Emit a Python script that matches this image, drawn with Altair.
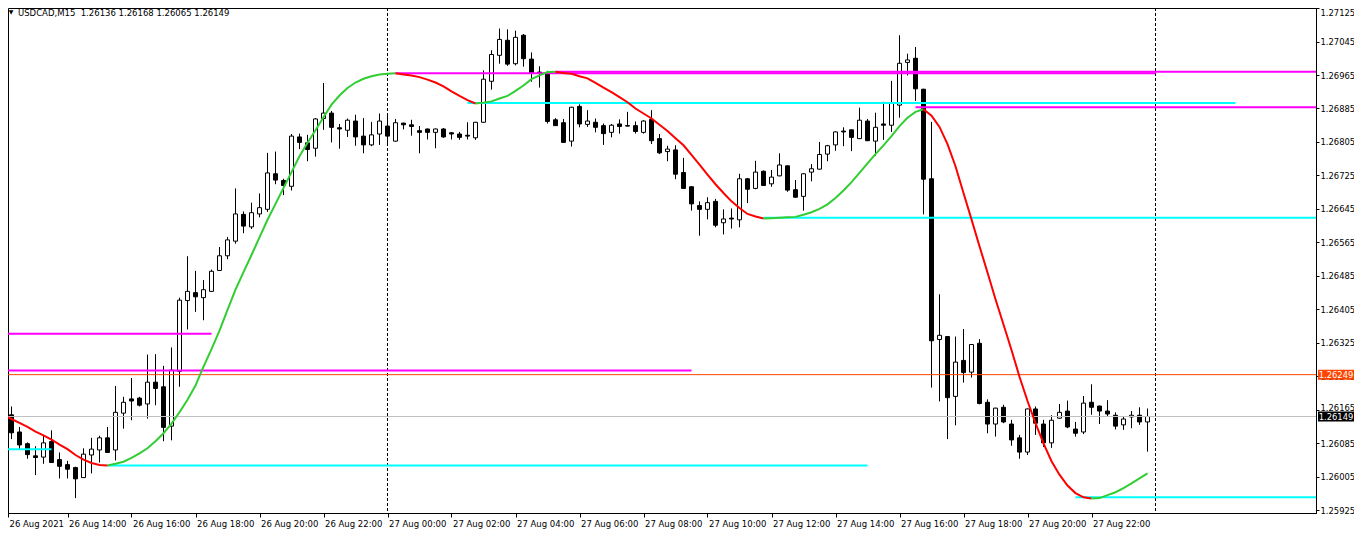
import altair as alt
import pandas as pd

FONT = "DejaVu Sans"
SYMBOL = "USDCAD,M15"

# ---------------- data ----------------
x_labels = ["26 Aug 2021", "26 Aug 14:00", "26 Aug 16:00", "26 Aug 18:00", "26 Aug 20:00",
            "26 Aug 22:00", "27 Aug 00:00", "27 Aug 02:00", "27 Aug 04:00", "27 Aug 06:00",
            "27 Aug 08:00", "27 Aug 10:00", "27 Aug 12:00", "27 Aug 14:00", "27 Aug 16:00",
            "27 Aug 18:00", "27 Aug 20:00", "27 Aug 22:00"]

price_ticks = [1.25925, 1.26005, 1.26085, 1.26165, 1.26245, 1.26325, 1.26405, 1.26485,
               1.26565, 1.26645, 1.26725, 1.26805, 1.26885, 1.26965, 1.27045, 1.27125]

opens = [1.26141, 1.26153, 1.26112, 1.26084, 1.26055, 1.26052, 1.26089, 1.26046,
         1.26034, 1.26027, 1.26003, 1.26057, 1.26069, 1.26098, 1.26069, 1.26157,
         1.26191, 1.26193, 1.26179, 1.26231, 1.26220, 1.26126, 1.26257, 1.26426,
         1.26445, 1.26433, 1.26448, 1.26498, 1.26533, 1.26568, 1.26632, 1.26602,
         1.26633, 1.26644, 1.26729, 1.26713, 1.26699, 1.26817, 1.26803, 1.26790,
         1.26861, 1.26874, 1.26839, 1.26833, 1.26855, 1.26819, 1.26798, 1.26824,
         1.26843, 1.26807, 1.26850, 1.26846, 1.26832, 1.26836, 1.26828, 1.26836,
         1.26827, 1.26824, 1.26821, 1.26815, 1.26852, 1.26950, 1.27012, 1.27048,
         1.26992, 1.27060, 1.27003, 1.26972, 1.26970, 1.26858, 1.26851, 1.26807,
         1.26890, 1.26847, 1.26852, 1.26844, 1.26828, 1.26848, 1.26844, 1.26844,
         1.26828, 1.26859, 1.26813, 1.26782, 1.26786, 1.26732, 1.26698, 1.26653,
         1.26644, 1.26663, 1.26612, 1.26623, 1.26619, 1.26717, 1.26694, 1.26735,
         1.26705, 1.26724, 1.26748, 1.26691, 1.26675, 1.26733, 1.26740, 1.26776,
         1.26798, 1.26831, 1.26834, 1.26813, 1.26855, 1.26807, 1.26848, 1.26845,
         1.26893, 1.26995, 1.27005, 1.26931, 1.26717, 1.26333, 1.26340, 1.26197,
         1.26283, 1.26255, 1.26324, 1.26183, 1.26131, 1.26171, 1.26131, 1.26098,
         1.26064, 1.26167, 1.26131, 1.26086, 1.26145, 1.26162, 1.26119, 1.26112,
         1.26183, 1.26174, 1.26162, 1.26152, 1.26129, 1.26148, 1.26152, 1.26136]

highs = [1.26163, 1.26173, 1.26124, 1.26087, 1.26078, 1.26103, 1.26116, 1.26063,
         1.26043, 1.26029, 1.26073, 1.26098, 1.26103, 1.26124, 1.26222, 1.26196,
         1.26241, 1.26196, 1.26297, 1.26298, 1.26270, 1.26314, 1.26433, 1.26532,
         1.26497, 1.26475, 1.26500, 1.26554, 1.26578, 1.26694, 1.26639, 1.26660,
         1.26682, 1.26779, 1.26782, 1.26717, 1.26824, 1.26825, 1.26822, 1.26862,
         1.26946, 1.26879, 1.26848, 1.26861, 1.26870, 1.26862, 1.26853, 1.26873,
         1.26867, 1.26860, 1.26851, 1.26858, 1.26843, 1.26837, 1.26837, 1.26838,
         1.26828, 1.26829, 1.26852, 1.26853, 1.26976, 1.27024, 1.27076, 1.27074,
         1.27071, 1.27063, 1.27019, 1.26986, 1.26975, 1.26862, 1.26860, 1.26889,
         1.26895, 1.26881, 1.26861, 1.26849, 1.26848, 1.26859, 1.26877, 1.26854,
         1.26857, 1.26881, 1.26824, 1.26796, 1.26797, 1.26767, 1.26699, 1.26663,
         1.26673, 1.26669, 1.26644, 1.26646, 1.26729, 1.26719, 1.26760, 1.26737,
         1.26738, 1.26778, 1.26749, 1.26714, 1.26730, 1.26752, 1.26805, 1.26798,
         1.26830, 1.26840, 1.26835, 1.26887, 1.26860, 1.26875, 1.26901, 1.26951,
         1.27060, 1.27016, 1.27032, 1.26932, 1.26853, 1.26441, 1.26341, 1.26340,
         1.26358, 1.26322, 1.26334, 1.26190, 1.26170, 1.26177, 1.26141, 1.26105,
         1.26168, 1.26173, 1.26141, 1.26152, 1.26179, 1.26187, 1.26136, 1.26198,
         1.26226, 1.26175, 1.26188, 1.26159, 1.26150, 1.26162, 1.26171, 1.26168]

lows = [1.26097, 1.26095, 1.26070, 1.26048, 1.26009, 1.26036, 1.26038, 1.26001,
        1.26001, 1.25954, 1.26002, 1.26013, 1.26039, 1.26062, 1.26044, 1.26120,
        1.26140, 1.26173, 1.26144, 1.26176, 1.26090, 1.26092, 1.26220, 1.26357,
        1.26399, 1.26379, 1.26447, 1.26497, 1.26525, 1.26562, 1.26587, 1.26597,
        1.26625, 1.26638, 1.26704, 1.26678, 1.26689, 1.26788, 1.26759, 1.26770,
        1.26834, 1.26804, 1.26789, 1.26817, 1.26796, 1.26778, 1.26795, 1.26798,
        1.26802, 1.26806, 1.26835, 1.26820, 1.26778, 1.26811, 1.26790, 1.26815,
        1.26811, 1.26810, 1.26811, 1.26810, 1.26851, 1.26930, 1.26992, 1.26987,
        1.26988, 1.26985, 1.26949, 1.26935, 1.26849, 1.26844, 1.26803, 1.26794,
        1.26840, 1.26841, 1.26828, 1.26798, 1.26816, 1.26825, 1.26842, 1.26825,
        1.26825, 1.26800, 1.26776, 1.26759, 1.26716, 1.26693, 1.26641, 1.26581,
        1.26620, 1.26601, 1.26584, 1.26598, 1.26601, 1.26659, 1.26692, 1.26700,
        1.26698, 1.26723, 1.26686, 1.26672, 1.26641, 1.26711, 1.26739, 1.26759,
        1.26784, 1.26795, 1.26783, 1.26812, 1.26807, 1.26772, 1.26810, 1.26829,
        1.26863, 1.26964, 1.26903, 1.26632, 1.26218, 1.26185, 1.26095, 1.26128,
        1.26230, 1.26242, 1.26178, 1.26109, 1.26101, 1.26133, 1.26079, 1.26048,
        1.26057, 1.26105, 1.26076, 1.26074, 1.26144, 1.26121, 1.26101, 1.26107,
        1.26153, 1.26131, 1.26150, 1.26118, 1.26117, 1.26121, 1.26129, 1.26065]

closes = [1.26155, 1.26110, 1.26081, 1.26058, 1.26051, 1.26086, 1.26039, 1.26030,
          1.26023, 1.26000, 1.26059, 1.26071, 1.26098, 1.26063, 1.26159, 1.26183,
          1.26186, 1.26176, 1.26231, 1.26216, 1.26123, 1.26260, 1.26427, 1.26448,
          1.26435, 1.26452, 1.26496, 1.26533, 1.26571, 1.26633, 1.26604, 1.26636,
          1.26648, 1.26731, 1.26714, 1.26701, 1.26819, 1.26804, 1.26787, 1.26860,
          1.26874, 1.26840, 1.26836, 1.26857, 1.26817, 1.26798, 1.26822, 1.26855,
          1.26819, 1.26851, 1.26846, 1.26842, 1.26828, 1.26828, 1.26836, 1.26817,
          1.26824, 1.26816, 1.26819, 1.26852, 1.26955, 1.27014, 1.27050, 1.26991,
          1.27055, 1.27004, 1.26970, 1.26970, 1.26854, 1.26844, 1.26804, 1.26888,
          1.26848, 1.26855, 1.26840, 1.26825, 1.26845, 1.26842, 1.26843, 1.26830,
          1.26855, 1.26808, 1.26779, 1.26788, 1.26728, 1.26694, 1.26657, 1.26644,
          1.26660, 1.26606, 1.26621, 1.26621, 1.26717, 1.26692, 1.26733, 1.26701,
          1.26721, 1.26750, 1.26690, 1.26673, 1.26729, 1.26741, 1.26775, 1.26796,
          1.26829, 1.26829, 1.26816, 1.26857, 1.26808, 1.26840, 1.26845, 1.26897,
          1.26993, 1.27001, 1.26932, 1.26716, 1.26330, 1.26343, 1.26194, 1.26279,
          1.26254, 1.26321, 1.26180, 1.26131, 1.26169, 1.26136, 1.26093, 1.26064,
          1.26167, 1.26133, 1.26086, 1.26140, 1.26159, 1.26124, 1.26109, 1.26181,
          1.26171, 1.26162, 1.26155, 1.26126, 1.26143, 1.26152, 1.26136, 1.26149]

# smoothed trend indicator (red falling / green rising)
curve = [1.26152, 1.26143, 1.26134, 1.26124, 1.26113, 1.26104, 1.26094, 1.26082,
         1.26071, 1.26057, 1.26046, 1.26038, 1.26033, 1.26032, 1.26036, 1.26041,
         1.26050, 1.26061, 1.26073, 1.26090, 1.26109, 1.26132, 1.26159, 1.26189,
         1.26223, 1.26268, 1.26310, 1.26354, 1.26404, 1.26452, 1.26494, 1.26535,
         1.26577, 1.26619, 1.26657, 1.26695, 1.26733, 1.26771, 1.26803, 1.26833,
         1.26864, 1.26894, 1.26916, 1.26934, 1.26947, 1.26956, 1.26962, 1.26966,
         1.26968, 1.26969, 1.26966, 1.26964, 1.26960, 1.26954, 1.26947, 1.26938,
         1.26926, 1.26915, 1.26905, 1.26897, 1.26899, 1.26902, 1.26909, 1.26915,
         1.26927, 1.26940, 1.26955, 1.26964, 1.26972, 1.26973, 1.26970, 1.26968,
         1.26962, 1.26957, 1.26946, 1.26935, 1.26924, 1.26912, 1.26900, 1.26885,
         1.26873, 1.26861, 1.26846, 1.26831, 1.26814, 1.26797, 1.26774, 1.26751,
         1.26727, 1.26704, 1.26683, 1.26663, 1.26647, 1.26633, 1.26627, 1.26622,
         1.26623, 1.26624, 1.26625, 1.26626, 1.26631, 1.26637, 1.26645, 1.26656,
         1.26671, 1.26689, 1.26709, 1.26731, 1.26754, 1.26776, 1.26797, 1.26819,
         1.26843, 1.26863, 1.26877, 1.26883, 1.26868, 1.26841, 1.26800, 1.26747,
         1.26683, 1.26620, 1.26556, 1.26493, 1.26429, 1.26369, 1.26308, 1.26244,
         1.26186, 1.26133, 1.26085, 1.26042, 1.26010, 1.25984, 1.25966, 1.25956,
         1.25953, 1.25954, 1.25961, 1.25968, 1.25978, 1.25989, 1.26001, 1.26013]

# horizontal levels: price, first bar, last bar (bars beyond the edges are clipped), kind
level_price = [1.26969, 1.26973, 1.26898, 1.26888, 1.26624, 1.26347,
               1.26259, 1.26071, 1.26032, 1.25956, 1.26249, 1.26149]
level_from = [49, 69, 58, 114, 95, -5, -5, -5, 13, 134, -5, -5]
level_to = [144, 200, 154, 200, 200, 26, 86, 6, 108, 200, 200, 200]
level_kind = ["res", "res", "sup", "res", "sup", "res",
              "res", "sup", "sup", "sup", "alert", "bid"]

day_breaks = [48, 144]           # 27 Aug 00:00 and 28 Aug 00:00
tag_price = [1.26249, 1.26149]
tag_kind = ["alert", "bid"]

# ---------------- layout / styles ----------------
PLOT_W, PLOT_H = 1308, 505
PAD_RIGHT, PAD_BOTTOM = 38, 18
BAR_PX = 8
BAR0_X = -4.5
PX_PER_PRICE = 41850
REF_PRICE, REF_Y = 1.26149, 408.5
TAG_X = 1328

X_LO = (0 - BAR0_X) / BAR_PX
X_HI = (PLOT_W - BAR0_X) / BAR_PX
Y_HI = REF_PRICE + REF_Y / PX_PER_PRICE
Y_LO = REF_PRICE - (PLOT_H - REF_Y) / PX_PER_PRICE

KIND_COLOR = {"res": "#FF00FF", "sup": "#00FFFF", "alert": "#FF4500", "bid": "#C0C0C0"}
KIND_WIDTH = {"res": 2, "sup": 2, "alert": 1, "bid": 1}
TAG_BG = {"alert": "#FF4500", "bid": "#000000"}

# ---------------- tables ----------------
n = len(opens)
candles = pd.DataFrame({"bar": list(range(n)), "open": opens, "high": highs,
                        "low": lows, "close": closes})
candles["dir"] = ["bull" if c >= o else "bear" for o, c in zip(opens, closes)]

rows, run, prev = [], 0, None
for k in range(n - 1):
    t = "up" if curve[k + 1] >= curve[k] else "down"
    if t != prev:
        if prev is not None:
            run += 1
        rows.append({"bar": k, "ma": curve[k], "run": run, "trend": t})
        prev = t
    rows.append({"bar": k + 1, "ma": curve[k + 1], "run": run, "trend": t})
ma_df = pd.DataFrame(rows)

levels = pd.DataFrame({"price": level_price, "x_from": level_from, "x_to": level_to,
                       "kind": level_kind})
levels["color"] = levels["kind"].map(KIND_COLOR)
levels["w"] = levels["kind"].map(KIND_WIDTH)

seps = pd.DataFrame({"bar": day_breaks})
tags = pd.DataFrame({"price": tag_price, "kind": tag_kind})
tags["bg"] = tags["kind"].map(TAG_BG)
tags["label"] = [f"{p:.5f}" for p in tag_price]

title_df = pd.DataFrame({"t": [f"{SYMBOL}\u00a0 {opens[-1]:.5f} {highs[-1]:.5f} "
                               f"{lows[-1]:.5f} {closes[-1]:.5f}"]})

# ---------------- scales / axes ----------------
xs = alt.Scale(domain=[X_LO, X_HI], nice=False, zero=False, padding=0)
ys = alt.Scale(domain=[Y_LO, Y_HI], nice=False, zero=False, padding=0)

lab_arr = "[" + ",".join(f"'{s}'" for s in x_labels) + "]"
x_axis = alt.Axis(values=[X_LO] + [BAR_PX * k for k in range(1, len(x_labels))],
                  labelExpr=lab_arr + "[round(datum.value / 8)]",
                  orient="bottom", title=None, grid=False, tickSize=4, labelPadding=2,
                  labelAlign="left", labelOffset=1, labelFlush=False, labelOverlap=False,
                  labelFont=FONT, labelFontSize=8.5, labelColor="black",
                  tickColor="black", domainColor="black", zindex=0)
y_axis = alt.Axis(values=price_ticks, format=".5f", orient="right", title=None, grid=False,
                  tickSize=3, labelPadding=1, labelFlush=False, labelOverlap=False,
                  labelBaseline={"condition": {"test": "datum.value > 1.2711", "value": "top"},
                                 "value": "middle"},
                  labelOffset={"condition": {"test": "abs(datum.value - 1.26165) < 0.00001",
                                             "value": -2},
                               "value": 0},
                  labelFont=FONT, labelFontSize=8.4, labelColor="black",
                  tickColor="black", domainColor="black", zindex=0)


def X(f):
    return alt.X(f"{f}:Q", scale=xs, axis=x_axis)


def Y(f):
    return alt.Y(f"{f}:Q", scale=ys, axis=y_axis)


sep_layer = alt.Chart(seps).mark_rule(color="black", strokeWidth=1, strokeDash=[3, 2]).encode(
    x=X("bar"))

wicks = alt.Chart(candles).mark_rule(color="black", strokeWidth=1, clip=True).encode(
    x=X("bar"), y=Y("low"), y2="high")

bodies = alt.Chart(candles).mark_bar(size=4, stroke="black", strokeWidth=1, clip=True).encode(
    x=X("bar"), y=Y("open"), y2="close",
    fill=alt.Fill("dir:N", scale=alt.Scale(domain=["bull", "bear"], range=["white", "black"]),
                  legend=None))

level_layer = alt.Chart(levels).mark_rule(clip=True).encode(
    x=X("x_from"), x2="x_to", y=Y("price"),
    color=alt.Color("color:N", scale=None, legend=None),
    strokeWidth=alt.StrokeWidth("w:Q", scale=None, legend=None))

ma_layer = alt.Chart(ma_df).mark_line(strokeWidth=2, clip=True).encode(
    x=X("bar"), y=Y("ma"), detail="run:N",
    color=alt.Color("trend:N", scale=alt.Scale(domain=["down", "up"],
                                               range=["#FF0000", "#32CD32"]), legend=None))

tag_box = alt.Chart(tags).mark_point(
    shape="M-1,-0.278L1,-0.278L1,0.278L-1,0.278Z", size=1296, filled=True, opacity=1,
    strokeWidth=0).encode(
    x=alt.value(TAG_X), y=Y("price"), color=alt.Color("bg:N", scale=None, legend=None))

tag_text = alt.Chart(tags).mark_text(font=FONT, fontSize=8.4, color="white", align="center",
                                     baseline="middle").encode(
    x=alt.value(TAG_X), y=Y("price"), text="label:N")

tri = alt.Chart(title_df).mark_text(text="\u25bc", font=FONT, fontSize=6, color="black",
                                    align="center", baseline="middle").encode(
    x=alt.value(3), y=alt.value(4))
title = alt.Chart(title_df).mark_text(font=FONT, fontSize=8.5, color="black", align="left",
                                      baseline="top").encode(
    x=alt.value(10), y=alt.value(0.5), text="t:N")

chart = alt.layer(sep_layer, wicks, bodies, level_layer, ma_layer, tag_box, tag_text,
                  tri, title).properties(
    width=PLOT_W, height=PLOT_H,
    padding={"left": 0, "top": 0, "right": PAD_RIGHT, "bottom": PAD_BOTTOM},
    autosize=alt.AutoSizeParams(type="none"),
).configure(background="white").configure_view(stroke="black", strokeWidth=1)

chart.save("out.html", embed_options={"renderer": "svg", "actions": False})
